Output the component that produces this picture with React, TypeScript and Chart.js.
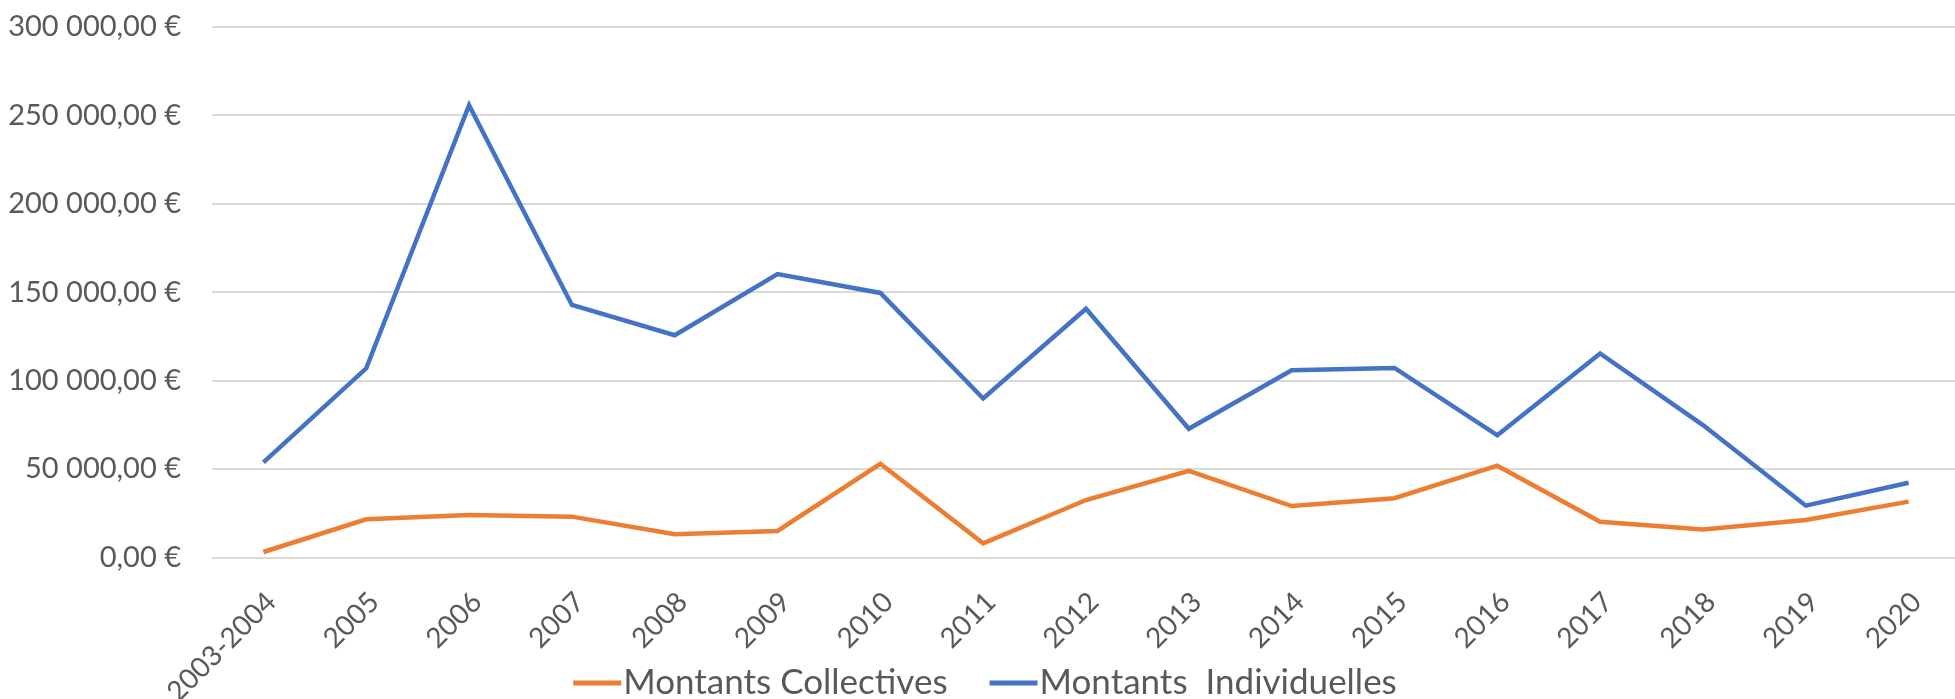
import React, { useEffect, useRef } from "react";
import { Chart, registerables } from "chart.js";

Chart.register(...registerables);

const categories = [
  "2003-2004", "2005", "2006", "2007", "2008", "2009", "2010", "2011", "2012",
  "2013", "2014", "2015", "2016", "2017", "2018", "2019", "2020",
];

const montantsCollectives = [
  3100, 21600, 24000, 23100, 13100, 15000, 53000, 8000, 32500,
  49000, 29100, 33500, 51900, 20200, 15900, 21200, 31600,
];

const montantsIndividuelles = [
  53800, 107000, 255800, 142800, 125700, 160300, 149600, 89900, 140700,
  72800, 105900, 107200, 69100, 115400, 74900, 29300, 42300,
];

const yTicks = [0, 50000, 100000, 150000, 200000, 250000, 300000];

const seriesNames = ["Montants Collectives", "Montants  Individuelles"];

const FONT = "Lato, 'Open Sans', sans-serif";
const TEXT = "#595959";

function formatEuro(v: number): string {
  const s = Math.round(v).toString();
  const grouped = s.replace(/\B(?=(\d{3})+(?!\d))/g, " ");
  return grouped + ",00 €";
}

const legendPlugin = {
  id: "customLegend",
  afterDraw(chart: any) {
    const ctx = chart.ctx;
    const fontSize = 35;
    ctx.save();
    ctx.font = `${fontSize}px ${FONT}`;
    ctx.textBaseline = "middle";
    ctx.textAlign = "left";
    const lineW = 48;
    const gapText = 2;
    const gapItems = 42;
    const items = chart.data.datasets.map((ds: any) => ({
      label: ds.label,
      color: ds.borderColor,
      w: ctx.measureText(ds.label).width,
    }));
    let total = 0;
    items.forEach((it: any, i: number) => {
      total += lineW + gapText + it.w + (i < items.length - 1 ? gapItems : 0);
    });
    let x = 985 - total / 2;
    const y = 683;
    items.forEach((it: any) => {
      ctx.strokeStyle = it.color;
      ctx.lineWidth = 5;
      ctx.beginPath();
      ctx.moveTo(x, y);
      ctx.lineTo(x + lineW, y);
      ctx.stroke();
      x += lineW + gapText;
      ctx.fillStyle = TEXT;
      ctx.fillText(it.label, x, y);
      x += it.w + gapItems;
    });
    ctx.restore();
  },
};

export default function App() {
  const canvasRef = useRef<HTMLCanvasElement | null>(null);

  useEffect(() => {
    if (!canvasRef.current) return;
    const chart = new Chart(canvasRef.current, {
      type: "line",
      data: {
        labels: categories,
        datasets: [
          {
            label: seriesNames[0],
            data: montantsCollectives,
            borderColor: "#ED7D31",
            backgroundColor: "#ED7D31",
            borderWidth: 4.5,
            pointRadius: 0,
            tension: 0,
          },
          {
            label: seriesNames[1],
            data: montantsIndividuelles,
            borderColor: "#4472C4",
            backgroundColor: "#4472C4",
            borderWidth: 4.5,
            pointRadius: 0,
            tension: 0,
          },
        ],
      },
      options: {
        animation: false,
        responsive: false,
        maintainAspectRatio: false,
        layout: { padding: { top: 27, left: 0, right: 0, bottom: 0 } },
        plugins: {
          legend: { display: false },
          title: { display: false },
          tooltip: { enabled: false },
        },
        scales: {
          x: {
            type: "category",
            offset: true,
            grid: { display: false },
            border: { display: false },
            ticks: {
              minRotation: 45,
              maxRotation: 45,
              autoSkip: false,
              color: TEXT,
              padding: 20,
              labelOffset: 8,
              font: { family: FONT, size: 28 },
            },
            afterFit: (scale: any) => {
              scale.height = 141.5;
            },
          },
          y: {
            min: 0,
            max: 300000,
            afterBuildTicks: (scale: any) => {
              scale.ticks = yTicks.map((v) => ({ value: v }));
            },
            grid: {
              color: "#D9D9D9",
              lineWidth: 2,
              drawTicks: true,
              tickLength: 31,
              tickColor: "rgba(0,0,0,0)",
            },
            border: { display: false },
            ticks: {
              color: TEXT,
              padding: 0,
              font: { family: FONT, size: 29 },
              callback: (v: any) => formatEuro(Number(v)),
            },
            afterFit: (scale: any) => {
              scale.width = 212;
            },
          },
        },
      },
      plugins: [legendPlugin],
    });
    return () => chart.destroy();
  }, []);

  return (
    <div style={{ position: "absolute", left: 0, top: 0, width: 1955, height: 699, overflow: "hidden", background: "#fff" }}>
      <canvas ref={canvasRef} width={1960} height={699} style={{ display: "block" }} />
    </div>
  );
}
